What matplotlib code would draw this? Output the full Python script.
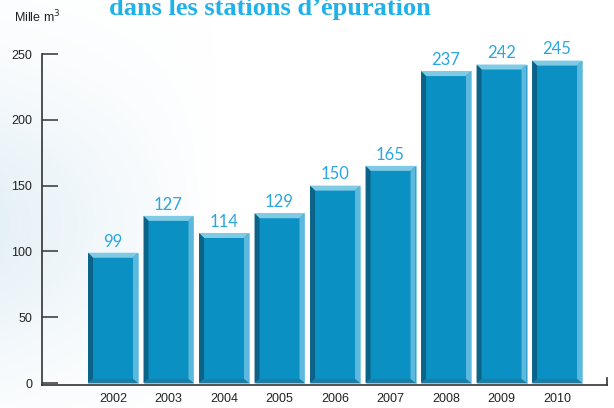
import numpy as np
import matplotlib.pyplot as plt
from matplotlib.patches import Polygon

years = ['2002', '2003', '2004', '2005', '2006', '2007', '2008', '2009', '2010']
volumes = [99, 127, 114, 129, 150, 165, 237, 242, 245]
yticks = [0, 50, 100, 150, 200, 250]

FACE = '#0a90c2'
TOP = '#7fcbe6'
LEFT = '#0b6388'
RIGHT = '#5cb8dc'
BOTTOM = '#1f7da3'
EDGE = '#8fd0ea'
LABEL = '#2ba6df'

plt.rcParams['font.family'] = ['Liberation Sans', 'DejaVu Sans']

fig = plt.figure(figsize=(6.14, 4.08), dpi=100)

# soft blue haze in the background
bg = fig.add_axes([0, 0, 1, 1], zorder=0)
gx = np.linspace(0, 1, 300)
gy = np.linspace(0, 1, 200)
X, Y = np.meshgrid(gx, gy)
haze = np.clip(1 - X / 0.35, 0, 1) * np.exp(-((Y - 0.45) / 0.35) ** 2)
bg.imshow(haze, cmap=plt.matplotlib.colors.LinearSegmentedColormap.from_list(
    'haze', ['#ffffff', '#e6f1f7']), extent=[0, 1, 0, 1], aspect='auto', origin='lower')
bg.axis('off')

ax = fig.add_axes([42 / 614, 23 / 408, 565 / 614, 331 / 408], zorder=1)
ax.patch.set_alpha(0)

x = np.arange(len(years))
w = 0.9
dx = 0.09
dy = 3.8
ax.bar(x, volumes, width=w, color=FACE, edgecolor=EDGE, linewidth=0.6, zorder=2)
for xi, v in zip(x, volumes):
    l, r = xi - w / 2, xi + w / 2
    il, ir = l + dx, r - dx
    it, ib = v - dy, dy * 0.8
    for pts, c in [
        ([(l, v), (r, v), (ir, it), (il, it)], TOP),
        ([(l, 0), (l, v), (il, it), (il, ib)], LEFT),
        ([(r, 0), (r, v), (ir, it), (ir, ib)], RIGHT),
        ([(l, 0), (r, 0), (ir, ib), (il, ib)], BOTTOM),
    ]:
        ax.add_patch(Polygon(pts, closed=True, facecolor=c, edgecolor='none', zorder=3))
    ax.text(xi, v + 8.5, str(v), ha='center', va='center', fontsize=12,
            color=LABEL, family=['Lato', 'DejaVu Sans'], zorder=4)

ax.set_xlim(-1.279, 8.9)
ax.set_ylim(-1.5, 250)
ax.set_yticks(yticks)
ax.set_xticks(x)
ax.set_xticklabels(years)
ax.tick_params(axis='y', direction='in', length=11.5, width=1.1, color='#333333',
               pad=7, labelsize=9, labelcolor='#222222')
ax.tick_params(axis='x', length=0, pad=6, labelsize=9, labelcolor='#222222')
ax.spines['top'].set_visible(False)
ax.spines['right'].set_bounds(-1.5, 4)
for s in ['left', 'bottom', 'right']:
    ax.spines[s].set_color('#333333')
    ax.spines[s].set_linewidth(1.2)

fig.text(14 / 614, 1 - 17 / 408, 'Mille m$^3$', fontsize=9, ha='left', va='center',
         color='#222222')
fig.text(270 / 614, 1 - 15 / 408, 'dans les stations d\u2019\u00e9puration', fontsize=19,
         fontweight='bold', color='#1fb1ea', ha='center', va='baseline',
         family=['Liberation Serif', 'DejaVu Serif'])

fig.savefig('out.png', dpi=100, facecolor='white')
